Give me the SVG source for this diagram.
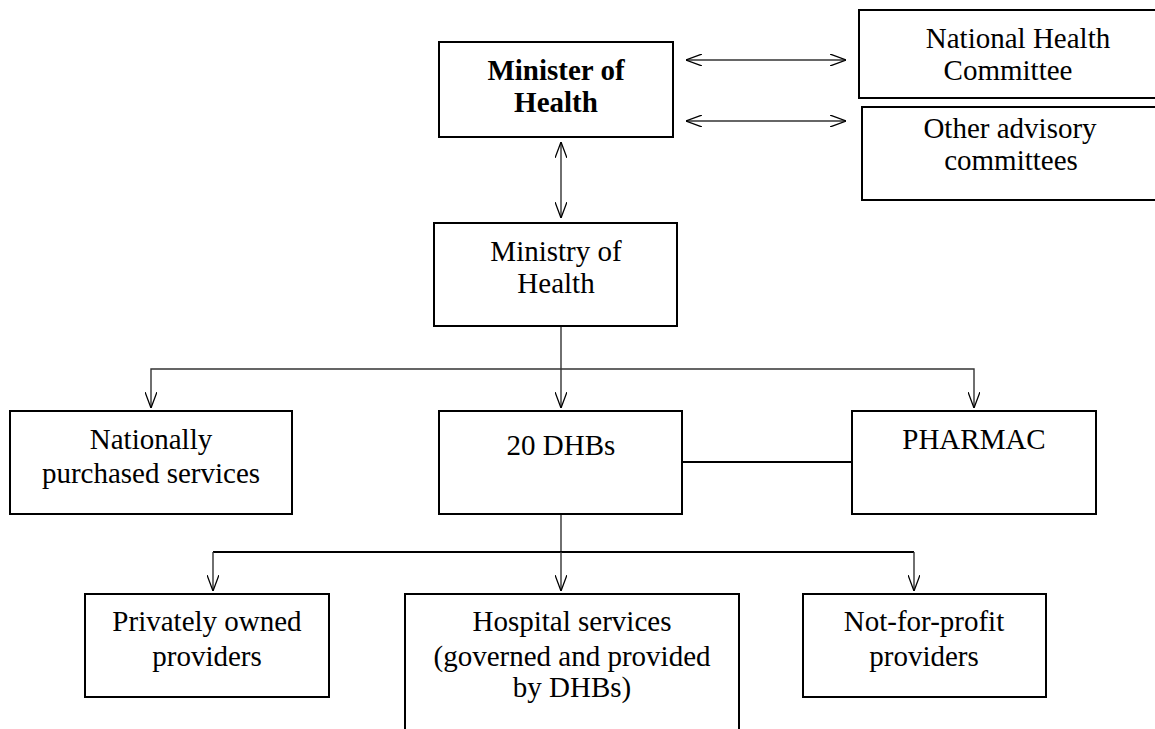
<svg xmlns="http://www.w3.org/2000/svg" width="1155" height="729" viewBox="0 0 1155 729">
<style>
.box{fill:#fff;stroke:#000;stroke-width:2}
.t{font-family:"Liberation Serif","Times New Roman",serif;font-size:29px;fill:#000;text-anchor:middle}
.b{font-weight:bold}
.c{fill:none;stroke:#333;stroke-width:1.4}
.ct{fill:none;stroke:#000;stroke-width:2.2}
</style>
<defs>
<marker id="ah" viewBox="0 0 16 12" refX="16" refY="6" markerWidth="16" markerHeight="12" markerUnits="userSpaceOnUse" orient="auto-start-reverse">
<path d="M0,0 L16,6 L0,12" fill="none" stroke="#000" stroke-width="1.3"/>
</marker>
</defs>
<rect width="1155" height="729" fill="#fff"/>
<g id="connectors">
<line class="c" x1="686" y1="60" x2="846" y2="60" marker-start="url(#ah)" marker-end="url(#ah)"/>
<line class="c" x1="686" y1="121" x2="846" y2="121" marker-start="url(#ah)" marker-end="url(#ah)"/>
<line class="c" x1="561" y1="142" x2="561" y2="218" marker-start="url(#ah)" marker-end="url(#ah)"/>
<polyline class="c" points="561,326 561,369"/>
<polyline class="c" points="151,408 151,369 974,369 974,408" marker-start="url(#ah)" marker-end="url(#ah)"/>
<line class="c" x1="561" y1="369" x2="561" y2="408" marker-end="url(#ah)"/>
<line class="ct" x1="682" y1="462" x2="852" y2="462"/>
<polyline class="c" points="561,514 561,552"/>
<polyline class="ct" points="213,552 914,552"/>
<line class="c" x1="213" y1="552" x2="213" y2="591" marker-end="url(#ah)"/>
<line class="c" x1="561" y1="552" x2="561" y2="591" marker-end="url(#ah)"/>
<line class="c" x1="914" y1="552" x2="914" y2="591" marker-end="url(#ah)"/>
</g>
<g id="minister">
<rect class="box" x="439" y="42" width="234" height="95"/>
<text class="t b" x="556" y="80">Minister of</text>
<text class="t b" x="556" y="112">Health</text>
</g>
<g id="nhc">
<rect class="box" x="859" y="10" width="310" height="88"/>
<text class="t" x="1018" y="48">National Health</text>
<text class="t" x="1008" y="80">Committee</text>
</g>
<g id="other">
<rect class="box" x="862" y="107" width="310" height="93"/>
<text class="t" x="1010" y="138">Other advisory</text>
<text class="t" x="1011" y="170">committees</text>
</g>
<g id="ministry">
<rect class="box" x="434" y="223" width="243" height="103"/>
<text class="t" x="556" y="261">Ministry of</text>
<text class="t" x="556" y="293">Health</text>
</g>
<g id="national">
<rect class="box" x="10" y="411" width="282" height="103"/>
<text class="t" x="151" y="449">Nationally</text>
<text class="t" x="151" y="483">purchased services</text>
</g>
<g id="dhbs">
<rect class="box" x="439" y="411" width="243" height="103"/>
<text class="t" x="561" y="455">20 DHBs</text>
</g>
<g id="pharmac">
<rect class="box" x="852" y="411" width="244" height="103"/>
<text class="t" x="974" y="449">PHARMAC</text>
</g>
<g id="private">
<rect class="box" x="85" y="594" width="244" height="103"/>
<text class="t" x="207" y="631">Privately owned</text>
<text class="t" x="207" y="666">providers</text>
</g>
<g id="hospital">
<rect class="box" x="405" y="594" width="334" height="150"/>
<text class="t" x="572" y="631">Hospital services</text>
<text class="t" x="572" y="666">(governed and provided</text>
<text class="t" x="572" y="697">by DHBs)</text>
</g>
<g id="notforprofit">
<rect class="box" x="803" y="594" width="243" height="103"/>
<text class="t" x="924" y="631">Not-for-profit</text>
<text class="t" x="924" y="666">providers</text>
</g>
</svg>
